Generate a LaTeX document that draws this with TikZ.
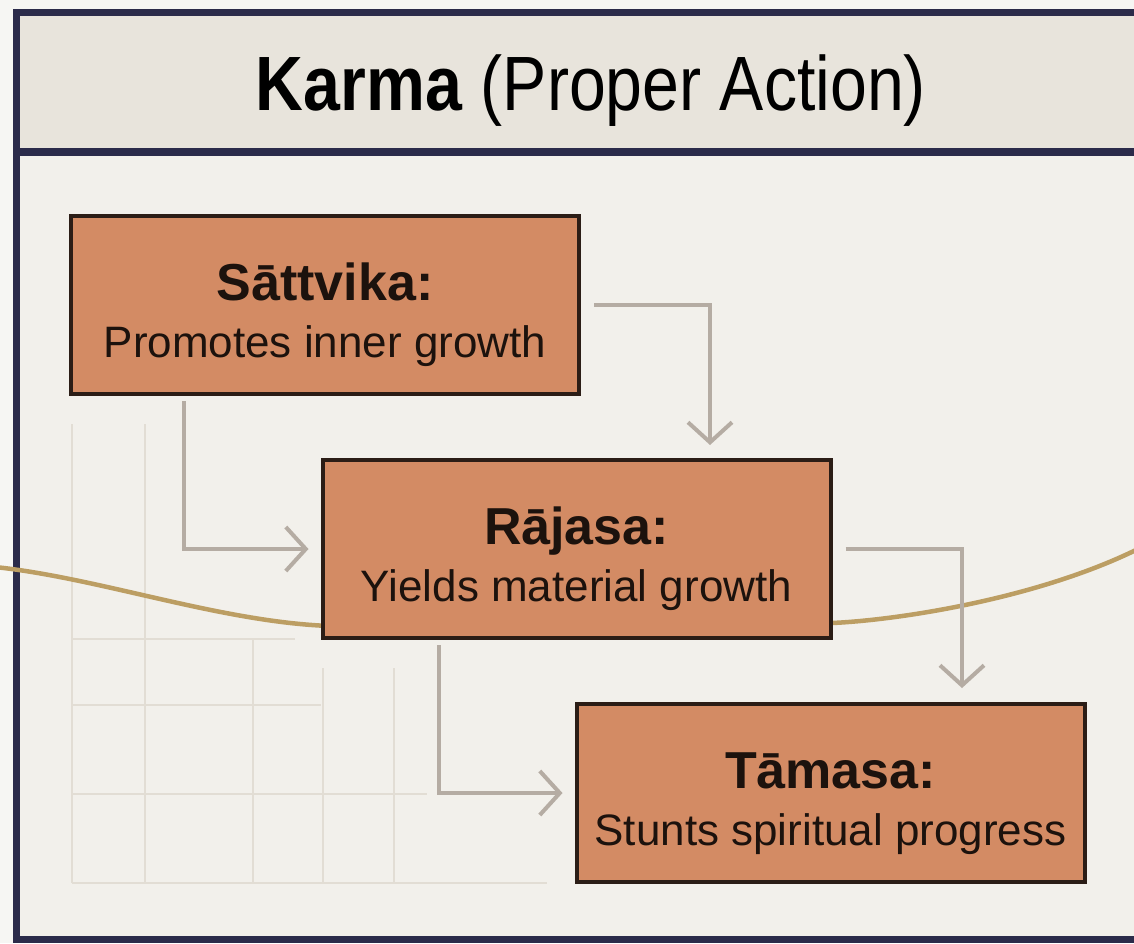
\documentclass[tikz,border=0pt]{standalone}
\usepackage{fontspec}
\setmainfont{Liberation Sans}
\newfontfamily\titlefont[FakeStretch=0.86]{Liberation Sans}
\usetikzlibrary{arrows.meta,calc}
\definecolor{navy}{HTML}{2B2B4A}
\definecolor{outbg}{HTML}{F6F6F3}
\definecolor{bodyfill}{HTML}{F2F0EB}
\definecolor{headfill}{HTML}{E8E4DC}
\definecolor{boxfill}{HTML}{D38B64}
\definecolor{boxline}{HTML}{2B1D16}
\definecolor{boxtext}{HTML}{1C120D}
\definecolor{conncol}{HTML}{B5ACA3}
\definecolor{gridcol}{HTML}{E2DDD4}
\definecolor{gold}{HTML}{BC9E63}
\newcommand\boxhead[1]{{\fontsize{52}{57}\selectfont\bfseries #1}}
\begin{document}
\begin{tikzpicture}[x=1pt,y=-1pt,
  stagebox/.style={draw=boxline, line width=4pt, fill=boxfill,
    minimum width=508pt, minimum height=178pt, inner sep=0pt,
    align=center, text=boxtext, font=\fontsize{44}{57}\selectfont,
    text height=104pt, text depth=0pt},
  conn/.style={draw=conncol, line width=4pt,
    -{Straight Barb[length=20pt,width=44pt]}},
  gridline/.style={draw=gridcol, line width=2pt},
  goldcurve/.style={draw=gold, line width=4.5pt},
  frameline/.style={draw=navy, line width=7pt}]
\useasboundingbox (0,0) rectangle (1134,943);
\clip (0,0) rectangle (1134,943);
\fill[outbg] (0,0) rectangle (1134,943);
% frame
\fill[bodyfill] (16,12) rectangle (1170,939);
\fill[headfill] (16,12) rectangle (1170,152);
\draw[frameline] (1170,12) -- (16,12) -- (16,939) -- (1170,939);
\draw[frameline, line width=8pt] (16,152) -- (1170,152);
\node[anchor=base, font=\titlefont\fontsize{77}{80}\selectfont, text=black] (title) at (591,110) {\textbf{Karma} (Proper Action)};
% grid
\draw[gridline] (72,424) -- (72,883);
\draw[gridline] (145,424) -- (145,883);
\draw[gridline] (253,639) -- (253,883);
\draw[gridline] (323,668) -- (323,883);
\draw[gridline] (394,668) -- (394,883);
\draw[gridline] (72,639) -- (295,639);
\draw[gridline] (72,705) -- (321,705);
\draw[gridline] (72,794) -- (427,794);
\draw[gridline] (72,883) -- (547,883);
% gold curve
\draw[goldcurve] (-5,567) .. controls (100,578) and (220,622) .. (330,626)
  .. controls (500,632) and (700,628) .. (832,623)
  .. controls (900,620) and (1040,598) .. (1140,548);
% boxes
\node[stagebox] (sat) at (325,305) {\boxhead{Sāttvika:}\\Promotes inner growth};
\node[stagebox] (raj) at (576.5,549) {\boxhead{Rājasa:}\\Yields material growth};
\node[stagebox] (tam) at (830.5,793) {\boxhead{Tāmasa:}\\Stunts spiritual progress};
% connectors
\draw[conn, shorten <=13pt, shorten >=13pt] (sat.east) -| ($(raj.north)+(133.5,0)$);
\draw[conn, shorten <=5pt, shorten >=12pt] ($(sat.south west)+(115,0)$) |- (raj.west);
\draw[conn, shorten <=13pt, shorten >=14pt] (raj.east) -| ($(tam.north)+(131.5,0)$);
\draw[conn, shorten <=5pt, shorten >=12pt] ($(raj.south west)+(118,0)$) |- (tam.west);
\end{tikzpicture}
\end{document}
